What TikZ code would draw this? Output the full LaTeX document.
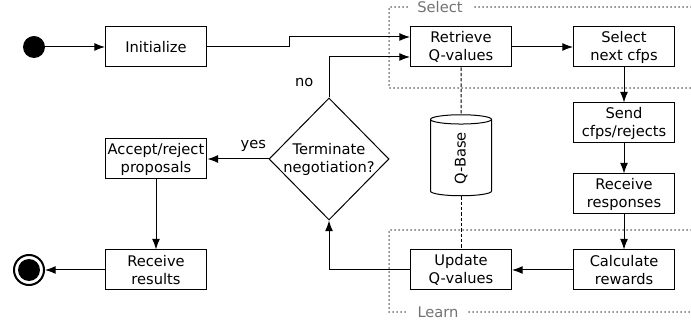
\documentclass[tikz,border=0pt]{standalone}
\usepackage{fontspec}
\setmainfont{DejaVu Sans}
\usetikzlibrary{arrows.meta,positioning,calc,shapes.geometric}
\tikzstyle{block}=[draw,rectangle,line width=0.75pt,minimum width=75.75pt,minimum height=30pt,align=center,inner sep=2pt]
\tikzstyle{decision}=[draw,diamond,line width=0.75pt,minimum width=90pt,minimum height=91.5pt,align=center,inner sep=-3pt]
\tikzstyle{store}=[draw,cylinder,line width=0.75pt,rotate=90,aspect=0.6,minimum width=45.75pt,minimum height=60.75pt,inner sep=1pt]
\tikzstyle{flow}=[-{Latex[length=8pt,width=6pt]},line width=0.75pt]
\tikzstyle{link}=[line width=0.75pt,dash pattern=on 2.5pt off 1.5pt]
\tikzstyle{region}=[black!55,line width=1.5pt,line cap=round,dash pattern=on 0pt off 3pt]
\tikzstyle{regionlabel}=[black!55,fill=white,inner xsep=7pt,inner ysep=1pt]

\begin{document}
\begin{tikzpicture}[x=0.75pt,y=-0.75pt,font=\fontsize{11}{13.5}\selectfont]
\useasboundingbox (0,0) rectangle (691,323);
% regions
\draw[region] (691,7) -- (389,7) -- (389,88) -- (691,88);
\node[regionlabel] (selectlbl) at (440,7) {Select};
\draw[region] (691,230) -- (389,230) -- (389,312) -- (691,312);
\node[regionlabel] (learnlbl) at (438,312) {Learn};
% states
\node [circle,fill=black,minimum size=16.5pt,inner sep=0pt] (start) at (34,47) {};
\node [block] (init) at (156,47) {Initialize};
\node [block] (retr) at (461,47) {Retrieve\\Q-values};
\node [block] (sel) at (624,47) {Select\\next cfps};
\node [block] (send) at (624,123) {Send\\cfps/rejects};
\node [block] (recv) at (624,194) {Receive\\responses};
\node [block] (calc) at (624,270) {Calculate\\rewards};
\node [block] (upd) at (461,270) {Update\\Q-values};
\node [store] (qbase) at (461,158.5) {Q-Base};
\node [decision] (term) at (329,159) {Terminate\\negotiation?};
\node [block] (acc) at (156,159) {Accept/reject\\proposals};
\node [block] (res) at (156,270) {Receive\\results};
\node [circle,draw,line width=1.5pt,minimum size=22.5pt,inner sep=0pt] (stop) at (29,270) {};
\fill (stop.center) circle (8.25pt);
% flows
\draw[flow] (start) -- (init);
\draw[flow] (init.east) -- ++(82,0) |- ([yshift=7.5pt]retr.west);
\draw[flow] (term.north) |- ([yshift=-7.5pt]retr.west) node[pos=0.18,left=8pt] {no};
\draw[flow] (retr) -- (sel);
\draw[flow] (sel) -- (send);
\draw[flow] (send) -- (recv);
\draw[flow] (recv) -- (calc);
\draw[flow] (calc) -- (upd);
\draw[flow] (upd.west) -| (term.south);
\draw[flow] (term.west) -- (acc.east) node[pos=0.25,above=2pt] {yes};
\draw[flow] (acc) -- (res);
\draw[flow] (res) -- (stop);
\draw[link] (retr) -- (qbase);
\draw[link] (qbase) -- (upd);
\end{tikzpicture}
\end{document}
